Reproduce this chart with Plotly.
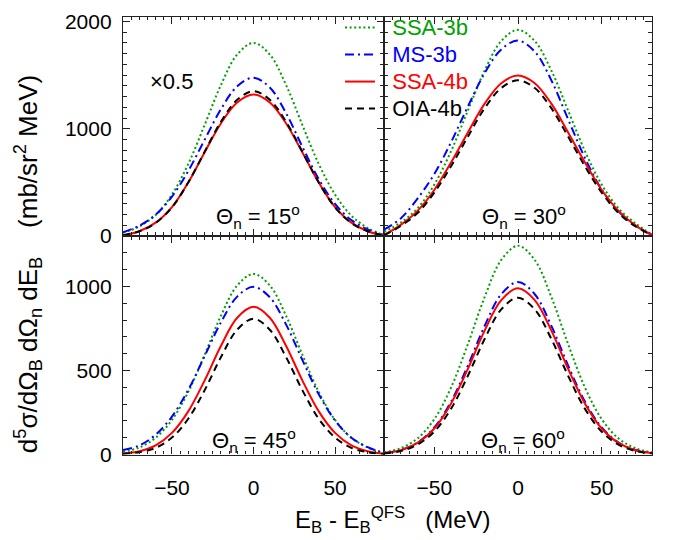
import plotly.graph_objects as go
from plotly.subplots import make_subplots

# Missing energy relative to the quasi-free peak (MeV)
E = [-80, -70, -60, -50, -40, -30, -20, -10, 0, 10, 20, 30, 40, 50, 60, 70, 80]

# Cross sections (mb/sr^2 MeV); the 15 deg set is already multiplied by 0.5
ssa3b_15 = [30, 90, 196, 387, 672, 1034, 1407, 1692, 1800, 1692, 1407, 1034, 672, 387, 190, 75, 8]
ms3b_15 = [35, 97, 199, 368, 607, 896, 1182, 1396, 1476, 1385, 1144, 831, 531, 300, 149, 62, 12]
ssa4b_15 = [8, 45, 125, 270, 500, 780, 1050, 1245, 1319, 1245, 1050, 780, 500, 270, 125, 45, 5]
oia4b_15 = [8, 45, 122, 268, 500, 785, 1065, 1270, 1350, 1270, 1065, 785, 500, 268, 122, 45, 5]

ssa3b_30 = [40, 126, 259, 479, 790, 1167, 1540, 1818, 1922, 1818, 1540, 1167, 790, 479, 259, 120, 12]
ms3b_30 = [60, 165, 349, 578, 874, 1205, 1516, 1740, 1822, 1720, 1449, 1086, 727, 434, 230, 100, 12]
ssa4b_30 = [10, 105, 235, 430, 686, 964, 1232, 1425, 1497, 1425, 1232, 964, 686, 430, 235, 100, 10]
oia4b_30 = [8, 95, 215, 405, 650, 925, 1190, 1380, 1452, 1380, 1190, 925, 650, 405, 215, 92, 8]

ssa3b_45 = [16, 42, 100, 206, 373, 593, 825, 1006, 1075, 1006, 825, 593, 373, 206, 100, 42, 10]
ms3b_45 = [27, 54, 118, 226, 385, 585, 786, 940, 998, 936, 773, 562, 359, 203, 100, 44, 8]
ssa4b_45 = [6, 20, 55, 129, 257, 440, 646, 814, 879, 814, 646, 440, 257, 129, 55, 20, 5]
oia4b_45 = [4, 14, 40, 101, 213, 382, 579, 743, 808, 743, 579, 382, 213, 101, 40, 14, 4]

ssa3b_60 = [13, 38, 96, 210, 398, 655, 935, 1158, 1243, 1158, 935, 655, 398, 210, 96, 38, 13]
ms3b_60 = [9, 27, 72, 161, 314, 528, 764, 954, 1027, 954, 764, 528, 314, 161, 72, 27, 9]
ssa4b_60 = [9, 26, 69, 155, 303, 508, 736, 919, 989, 919, 736, 508, 303, 155, 69, 26, 9]
oia4b_60 = [7, 21, 59, 136, 272, 467, 686, 864, 933, 864, 686, 467, 272, 136, 59, 21, 7]

angles = ["15", "30", "45", "60"]
panels = {
    "15": (ssa3b_15, ms3b_15, ssa4b_15, oia4b_15),
    "30": (ssa3b_30, ms3b_30, ssa4b_30, oia4b_30),
    "45": (ssa3b_45, ms3b_45, ssa4b_45, oia4b_45),
    "60": (ssa3b_60, ms3b_60, ssa4b_60, oia4b_60),
}
model_names = ["SSA-3b", "MS-3b", "SSA-4b", "OIA-4b"]
model_colors = ["#00a000", "#0000ff", "#ff0000", "#000000"]
model_dash = ["2px,2.6px", "9px,4px,2px,4px", "solid", "7px,5px"]

FONT = "Liberation Sans, Arial, Helvetica, sans-serif"
NB = "\u00a0"

fig = make_subplots(rows=2, cols=2, horizontal_spacing=0, vertical_spacing=0)
cells = [(1, 1), (1, 2), (2, 1), (2, 2)]

for k, ang in enumerate(angles):
    r, c = cells[k]
    for m, ys in enumerate(panels[ang]):
        label = (f"<span style='color:{model_colors[m]};font-size:22px'>"
                 f"{NB * 2}{model_names[m]}</span>")
        fig.add_trace(
            go.Scatter(
                x=E, y=ys, mode="lines",
                line=dict(color=model_colors[m], width=2, dash=model_dash[m],
                          shape="spline", smoothing=1.0),
                name=label,
                showlegend=(k == 0), legendgroup=model_names[m],
                hoverinfo="skip",
            ),
            row=r, col=c,
        )

W, H = 675, 540
xl, xm, xr = 123, 384, 652
yt, ym, yb = 10, 237, 463
xdom = [[xl / W, xm / W], [xm / W, xr / W]]
ydom = [[1 - ym / H, 1 - yt / H], [1 - yb / H, 1 - ym / H]]

axis_common = dict(
    showline=True, linecolor="#222", linewidth=1.4, mirror="allticks",
    ticks="inside", ticklen=7, tickwidth=1.3, tickcolor="#222",
    showgrid=False, zeroline=False,
    tickfont=dict(family=FONT, size=21, color="#000"),
)

for k in range(4):
    r, c = cells[k]
    xname = "xaxis" if k == 0 else f"xaxis{k + 1}"
    yname = "yaxis" if k == 0 else f"yaxis{k + 1}"
    fig.layout[xname].update(
        domain=xdom[c - 1], range=[-80, 80], tick0=0, dtick=50,
        showticklabels=(r == 2), ticklabelstandoff=14,
        minor=dict(ticks="inside", dtick=5, ticklen=3.5, tickwidth=1, tickcolor="#222"),
        **axis_common,
    )
    if r == 1:
        yrange, ydt = [0, 2045], 1000
    else:
        yrange, ydt = [0, 1300], 500
    fig.layout[yname].update(
        domain=ydom[r - 1], range=yrange, tick0=0, dtick=ydt,
        showticklabels=(c == 1), ticklabelstandoff=6,
        minor=dict(ticks="inside", dtick=100, ticklen=3.5, tickwidth=1, tickcolor="#222"),
        **axis_common,
    )

ann_font = dict(family=FONT, size=22, color="#000")
annotations = [
    dict(x=171 / W, y=1 - 77 / H, text="\u00d70.5"),
    dict(x=258 / W, y=1 - 217 / H, text="\u0398<sub>n</sub> = 15<sup>o</sup>"),
    dict(x=524 / W, y=1 - 217 / H, text="\u0398<sub>n</sub> = 30<sup>o</sup>"),
    dict(x=254 / W, y=1 - 448 / H, text="\u0398<sub>n</sub> = 45<sup>o</sup>"),
    dict(x=523 / W, y=1 - 448 / H, text="\u0398<sub>n</sub> = 60<sup>o</sup>"),
    dict(x=393 / W, y=1 - 531 / H, font=dict(family=FONT, size=24, color="#000"),
         text="E<sub>B</sub> - E<sub>B</sub><sup>QFS</sup>   (MeV)"),
    dict(x=28 / W, y=1 - 266 / H, textangle=-90,
         font=dict(family=FONT, size=26, color="#000"),
         text="d<sup>5</sup>\u03c3/d\u03a9<sub>B</sub> d\u03a9<sub>n</sub> dE<sub>B</sub>"
              "    (mb/sr<sup>2</sup> MeV)"),
]
for a in annotations:
    a.setdefault("font", ann_font)
    a.update(xref="paper", yref="paper", showarrow=False,
             xanchor="center", yanchor="middle")

fig.update_layout(
    width=W, height=H,
    margin=dict(l=0, r=0, t=0, b=0),
    paper_bgcolor="white", plot_bgcolor="white",
    annotations=annotations,
    showlegend=True,
    legend=dict(
        x=340 / W, y=1 - 2 / H, xanchor="left", yanchor="top",
        bgcolor="rgba(0,0,0,0)", borderwidth=0,
        font=dict(family=FONT, size=18.5, color="#000"),
        traceorder="normal", tracegroupgap=0,
    ),
    hovermode=False,
)

fig.write_html("out.html", config={"displayModeBar": False})
